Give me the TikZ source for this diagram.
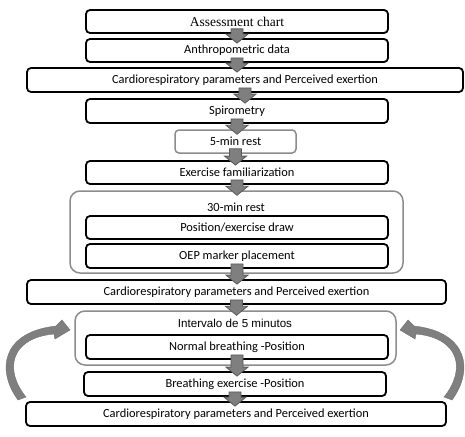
\documentclass[tikz,border=0pt]{standalone}
\usepackage{fontspec}
\setmainfont{Carlito}
\newfontfamily\timesf{Liberation Serif}
\newfontfamily\arialf{Liberation Sans}
\usetikzlibrary{calc}
\definecolor{arrfill}{HTML}{7F7F7F}
\definecolor{arrline}{HTML}{5A5A5A}
\definecolor{gbord}{HTML}{8C8C8C}
\tikzset{
  blackbox/.style={draw=black, line width=1.8pt, rounded corners=4pt, minimum height=23pt, inner sep=0pt, font=\fontsize{12.4}{14}\selectfont, fill=white},
  graybox/.style={draw=gbord, line width=1.5pt, rounded corners=4pt, minimum height=23pt, inner sep=0pt, font=\fontsize{12.4}{14}\selectfont, fill=white},
  bigbox/.style={draw=gbord, line width=1.5pt, rounded corners=10pt, inner sep=0pt},
  blkarrow/.style={fill=arrfill, draw=arrline, line width=0.8pt},
  curvarrow/.style={fill=arrfill, draw=arrfill!90!black, line width=0.4pt}
}
\newcommand\blk[2]{\path[blkarrow] let \p1=(#1.south), \p2=(#2.north) in (\x1-6pt,\y1+5pt) -- (\x1+6pt,\y1+5pt) -- (\x1+6pt,\y2+4pt) -- (\x1+11pt,\y2+4pt) -- (\x1,\y2-5pt) -- (\x1-11pt,\y2+4pt) -- (\x1-6pt,\y2+4pt) -- cycle;}
\begin{document}
\begin{tikzpicture}[x=1pt,y=-1pt]
\useasboundingbox (0,0) rectangle (465,436);
% big gray containers
\node[bigbox, minimum width=333pt, minimum height=82pt] (g1) at (236.5,232) {};
\node[font=\fontsize{12.4}{14}\selectfont] (t1) at (236,207) {30-min rest};
\node[bigbox, minimum width=321pt, minimum height=54pt] (g2) at (235.5,338) {};
\node[font=\arialf\fontsize{11.6}{14}\selectfont] (t2) at (235,323) {Intervalo de 5 minutos};
% boxes
\node[blackbox, minimum width=302pt, font=\timesf\fontsize{13.5}{15}\selectfont] (b1) at (237,21.5) {Assessment chart};
\node[blackbox, minimum width=302pt] (b2) at (237,50.5) {Anthropometric data};
\node[blackbox, minimum width=436pt, minimum height=24pt] (b3) at (245,80) {Cardiorespiratory parameters and Perceived exertion};
\node[blackbox, minimum width=302pt, minimum height=24pt] (b4) at (237,111) {Spirometry};
\node[graybox, minimum width=121pt] (b5) at (235.5,141.5) {5-min rest};
\node[blackbox, minimum width=302pt] (b6) at (237,172.5) {Exercise familiarization};
\node[blackbox, minimum width=302pt] (b7) at (237,227.5) {Position/exercise draw};
\node[blackbox, minimum width=302pt, minimum height=24pt] (b8) at (237,256) {OEP marker placement};
\node[blackbox, minimum width=419pt, minimum height=24pt] (b9) at (236.5,292) {Cardiorespiratory parameters and Perceived exertion};
\node[blackbox, minimum width=302pt, minimum height=24pt] (b10) at (237,347) {Normal breathing -Position};
\node[blackbox, minimum width=302pt, minimum height=24pt] (b11) at (235,384) {Breathing exercise -Position};
\node[blackbox, minimum width=420pt, minimum height=24pt] (b12) at (236,414) {Cardiorespiratory parameters and Perceived exertion};
% block arrows
\blk{b1}{b2}
\blk{b2}{b3}
\blk{b3}{b4}
\blk{b4}{b5}
\blk{b5}{b6}
\blk{b6}{g1}
\blk{b8}{b9}
\blk{b9}{g2}
\blk{b10}{b11}
\blk{b11}{b12}
% curved arrows
\path[curvarrow] (18,400) .. controls (-4,370) and (2,332) .. (56,326) -- (62,320) -- (70,330) -- (55,339) -- (54,334) .. controls (10,338) and (4,370) .. (26,397) -- cycle;
\path[curvarrow] (452,400) .. controls (474,370) and (468,332) .. (414,326) -- (408,320) -- (400,330) -- (415,339) -- (416,334) .. controls (460,338) and (466,370) .. (444,397) -- cycle;
\end{tikzpicture}
\end{document}
